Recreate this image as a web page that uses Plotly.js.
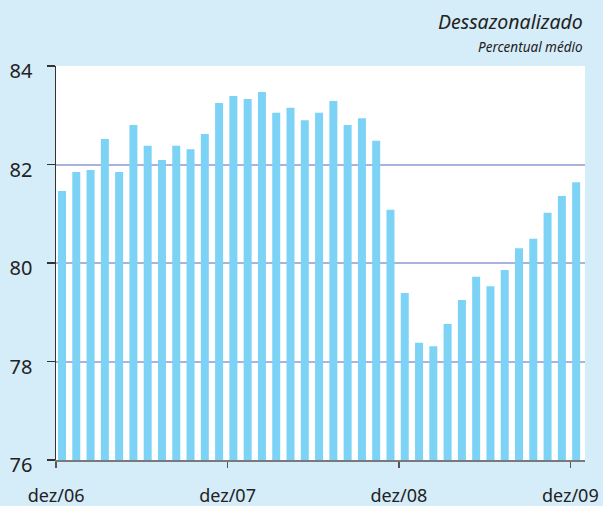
<!DOCTYPE html>
<html>
<head>
<meta charset="utf-8">
<script src="https://cdn.plot.ly/plotly-3.0.1.min.js"></script>
<style>html,body{margin:0;padding:0;background:#d5ecf9;}#chart{width:603px;height:506px;}</style>
</head>
<body>
<div id="chart"></div>
<script>
// Months (dez/06 .. dez/09)
const months = ["dez/06","jan/07","fev/07","mar/07","abr/07","mai/07","jun/07","jul/07","ago/07","set/07","out/07","nov/07",
  "dez/07","jan/08","fev/08","mar/08","abr/08","mai/08","jun/08","jul/08","ago/08","set/08","out/08","nov/08",
  "dez/08","jan/09","fev/09","mar/09","abr/09","mai/09","jun/09","jul/09","ago/09","set/09","out/09","nov/09","dez/09"];
// Percentual médio, dessazonalizado
const values = [81.46,81.85,81.89,82.52,81.85,82.80,82.38,82.09,82.38,82.31,82.62,83.25,
  83.39,83.33,83.47,83.05,83.15,82.90,83.05,83.29,82.80,82.94,82.48,81.08,
  79.39,78.38,78.31,78.76,79.25,79.72,79.53,79.86,80.30,80.49,81.02,81.36,81.64];
const tickLabels = ["dez/06","dez/07","dez/08","dez/09"];
const yTicks = [76,78,80,82,84];

const xIdx = months.map((m,i)=>i);
const tickPos = tickLabels.map(t => months.indexOf(t) - 0.41);

const trace = {
  type: 'bar',
  x: xIdx,
  y: values,
  customdata: months,
  hovertemplate: '%{customdata}: %{y}<extra></extra>',
  width: 0.56,
  marker: {color: '#7dd3f5', line: {width: 0}}
};

const layout = {
  width: 603, height: 506,
  paper_bgcolor: '#d5ecf9',
  plot_bgcolor: '#ffffff',
  margin: {l: 56, r: 18, t: 66, b: 46, pad: 0},
  showlegend: false,
  font: {family: '"Noto Sans", sans-serif', color: '#222'},
  xaxis: {
    type: 'linear',
    range: [-0.42, 36.62],
    tickmode: 'array',
    tickvals: tickPos,
    ticktext: tickLabels,
    showgrid: false,
    zeroline: false,
    showline: true,
    linecolor: '#7a7a7a',
    linewidth: 2,
    ticks: 'outside',
    ticklen: 6,
    tickwidth: 1.5,
    tickcolor: '#555',
    ticklabelstandoff: 12,
    tickfont: {size: 18, color: '#222'}
  },
  yaxis: {
    range: [76, 84],
    tickmode: 'array',
    tickvals: yTicks,
    ticktext: yTicks.map(String),
    showgrid: true,
    gridcolor: '#aab3dd',
    gridwidth: 2,
    zeroline: false,
    showline: true,
    linecolor: '#333',
    linewidth: 1.5,
    ticks: 'outside',
    ticklen: 8,
    tickwidth: 1.5,
    tickcolor: '#333',
    ticklabelstandoff: 10,
    ticklabelshift: 5,
    tickfont: {size: 20, color: '#222'}
  },
  annotations: [
    {text: '<i>Dessazonalizado</i>', xref: 'paper', yref: 'paper', x: 1, y: 1.114,
     xanchor: 'right', yanchor: 'middle', showarrow: false,
     font: {size: 19.5, color: '#222'}},
    {text: '<i>Percentual médio</i>', xref: 'paper', yref: 'paper', x: 1, y: 1.048,
     xanchor: 'right', yanchor: 'middle', showarrow: false,
     font: {size: 13.5, color: '#222'}}
  ]
};

Plotly.newPlot('chart', [trace], layout, {displayModeBar: false, staticPlot: true});
</script>
</body>
</html>
